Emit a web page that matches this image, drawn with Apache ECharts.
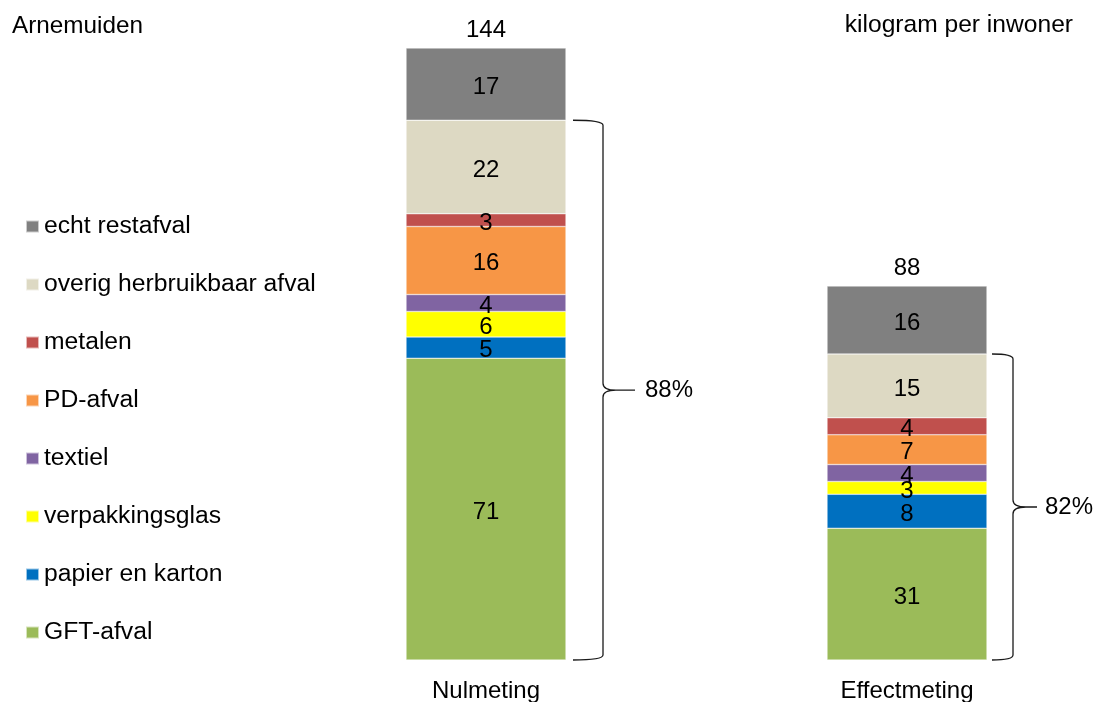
<!DOCTYPE html>
<html>
<head>
<meta charset="utf-8">
<script src="https://cdn.jsdelivr.net/npm/echarts@6/dist/echarts.min.js"></script>
<style>html,body{margin:0;padding:0;background:#fff}#c{width:1097px;height:702px}</style>
</head>
<body>
<div id="c"></div>
<script>
const categories = ['Nulmeting', 'Effectmeting'];
const seriesNames = ['GFT-afval', 'papier en karton', 'verpakkingsglas', 'textiel', 'PD-afval', 'metalen', 'overig herbruikbaar afval', 'echt restafval'];
const gft = [71, 31];
const papier = [5, 8];
const glas = [6, 3];
const textiel = [4, 4];
const pd = [16, 7];
const metalen = [3, 4];
const overig = [22, 15];
const restafval = [17, 16];
const totals = [144, 88];
const braceLow = [0, 0];
const braceHigh = [127, 72];
const braceLabels = ['88%', '82%'];

const values = [gft, papier, glas, textiel, pd, metalen, overig, restafval];
const colors = ['#9BBB59', '#0070C0', '#FFFF00', '#8064A2', '#F79646', '#C0504D', '#DDD9C3', '#808080'];
const FONT = "'Liberation Sans', Arial, sans-serif";
// brace geometry offsets (px from bar centre) per bar
const braceGeom = [
  { start: 87, vert: 117, tip: 149, label: 159 },
  { start: 85, vert: 106, tip: 130, label: 138 }
];

const chart = echarts.init(document.getElementById('c'), null, { renderer: 'canvas' });

const barSeries = seriesNames.map((name, i) => ({
  name: name,
  type: 'bar',
  stack: 'total',
  barWidth: 160,
  data: values[i],
  itemStyle: { color: colors[i], borderColor: 'rgba(255,255,255,0.6)', borderWidth: 0.6 },
  label: { show: true, position: 'inside', offset: [0, 3], color: '#000', fontSize: 24, fontFamily: FONT },
  emphasis: { disabled: true },
  silent: true
}));

const braceData = categories.map((c, i) => [c, braceLow[i], braceHigh[i], braceLabels[i]]);
const totalData = categories.map((c, i) => [c, totals[i]]);

const option = {
  animation: false,
  backgroundColor: '#fff',
  title: [
    { text: 'Arnemuiden', left: 12, top: 14, padding: 0, textStyle: { fontSize: 24.3, fontWeight: 'normal', color: '#000', fontFamily: FONT, lineHeight: 24 } },
    { text: 'kilogram per inwoner', right: 24, top: 13, padding: 0, textStyle: { fontSize: 24.6, fontWeight: 'normal', color: '#000', fontFamily: FONT, lineHeight: 24 } }
  ],
  legend: {
    orient: 'vertical',
    left: 25,
    top: 214,
    padding: 0,
    itemWidth: 13,
    itemHeight: 12,
    itemGap: 33,
    icon: 'rect',
    selectedMode: false,
    data: seriesNames.slice().reverse(),
    textStyle: { fontSize: 24.7, color: '#000', fontFamily: FONT, lineHeight: 25 }
  },
  grid: { left: 486, right: 190, top: 48, bottom: 42, containLabel: false, outerBoundsMode: 'none' },
  xAxis: {
    type: 'category',
    data: categories,
    boundaryGap: false,
    axisLine: { show: false },
    axisTick: { show: false },
    axisLabel: { fontSize: 24, color: '#000', fontFamily: FONT, margin: 19 }
  },
  yAxis: {
    type: 'value',
    min: 0,
    max: 144,
    show: false
  },
  series: barSeries.concat([
    {
      type: 'custom',
      silent: true,
      data: braceData,
      encode: { x: 0, y: [1, 2] },
      renderItem: function (params, api) {
        const idx = params.dataIndex;
        const g = braceGeom[idx];
        const pLow = api.coord([api.value(0), api.value(1)]);
        const pHigh = api.coord([api.value(0), api.value(2)]);
        const x0 = pLow[0];
        const top = pHigh[1], bot = pLow[1];
        const mid = (top + bot) / 2;
        const sx = x0 + g.start, vx = x0 + g.vert, tx = x0 + g.tip;
        const path =
          'M' + sx + ',' + top +
          ' Q' + vx + ',' + top + ' ' + vx + ',' + (top + 5) +
          ' L' + vx + ',' + (mid - 7) +
          ' Q' + vx + ',' + mid + ' ' + (vx + 13) + ',' + mid +
          ' L' + tx + ',' + mid +
          ' M' + (vx + 13) + ',' + mid +
          ' Q' + vx + ',' + mid + ' ' + vx + ',' + (mid + 7) +
          ' L' + vx + ',' + (bot - 5) +
          ' Q' + vx + ',' + bot + ' ' + sx + ',' + bot;
        return {
          type: 'group',
          children: [
            { type: 'path', shape: { pathData: path }, style: { fill: 'none', stroke: '#1a1a1a', lineWidth: 1.3 } },
            { type: 'text', x: x0 + g.label, y: mid, style: { text: braceLabels[idx], fill: '#000', fontSize: 24, fontFamily: FONT, align: 'left', verticalAlign: 'middle' } }
          ]
        };
      }
    },
    {
      type: 'custom',
      silent: true,
      data: totalData,
      encode: { x: 0, y: 1 },
      renderItem: function (params, api) {
        const p = api.coord([api.value(0), api.value(1)]);
        return { type: 'text', x: p[0], y: p[1] - 18, style: { text: String(totals[params.dataIndex]), fill: '#000', fontSize: 24, fontFamily: FONT, align: 'center', verticalAlign: 'middle' } };
      }
    }
  ])
};
chart.setOption(option);
</script>
</body>
</html>
